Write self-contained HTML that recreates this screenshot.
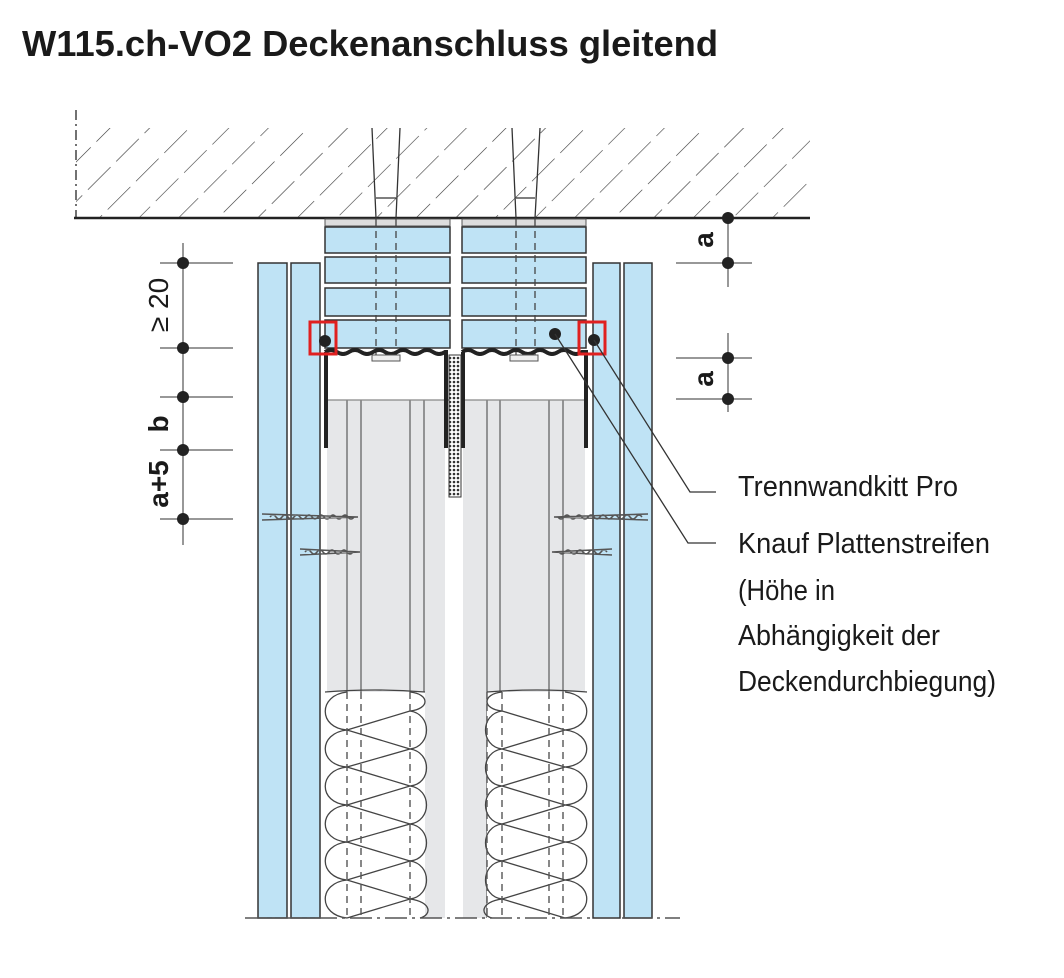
<!DOCTYPE html>
<html><head><meta charset="utf-8"><style>
html,body{margin:0;padding:0;background:#fff;}
svg{display:block;}
text{font-family:"Liberation Sans",sans-serif;fill:#1a1a1a;}
</style></head><body>
<svg width="1064" height="978" viewBox="0 0 1064 978" xmlns="http://www.w3.org/2000/svg">
<defs>
<pattern id="hatch" width="28" height="40" patternUnits="userSpaceOnUse" patternTransform="rotate(45)">
<line x1="0" y1="0" x2="0" y2="40" stroke="#333" stroke-width="1.2" stroke-dasharray="32 8"/>
</pattern>
<pattern id="cross" width="4" height="4" patternUnits="userSpaceOnUse">
<rect width="4" height="4" fill="#fff"/><circle cx="2" cy="2" r="1.3" fill="#333"/>
</pattern>
<clipPath id="slab"><rect x="76" y="128" width="734" height="90"/></clipPath>
</defs>

<text x="22" y="56" font-size="36" font-weight="bold" textLength="696" lengthAdjust="spacingAndGlyphs">W115.ch-VO2 Deckenanschluss gleitend</text>

<!-- slab -->
<g clip-path="url(#slab)"><rect x="0" y="100" width="900" height="140" fill="url(#hatch)"/></g>
<line x1="76" y1="110" x2="76" y2="218" stroke="#444" stroke-width="1.5" stroke-dasharray="10 4 2 4"/>
<line x1="74" y1="218" x2="810" y2="218" stroke="#222" stroke-width="2.5"/>
<g stroke="#333" stroke-width="1.3" fill="none">
<path d="M372 128 L376 218 M400 128 L396 218 M376 198 H396"/>
<path d="M512 128 L516 218 M540 128 L535 218 M516 198 H535"/>
</g>

<!-- outer boards -->
<g fill="#bfe3f5" stroke="#333" stroke-width="1.5">
<rect x="258" y="263" width="29" height="655"/>
<rect x="291" y="263" width="29" height="655"/>
<rect x="593" y="263" width="27" height="655"/>
<rect x="624" y="263" width="28" height="655"/>
</g>

<!-- stud interior -->
<rect x="327" y="400" width="118" height="518" fill="#e6e7e9"/>
<rect x="463" y="400" width="122" height="518" fill="#e6e7e9"/>
<g stroke="#666" stroke-width="1.3">
<line x1="347" y1="400" x2="347" y2="918"/><line x1="361" y1="400" x2="361" y2="918"/>
<line x1="410" y1="400" x2="410" y2="918"/><line x1="424" y1="400" x2="424" y2="918"/>
<line x1="487" y1="400" x2="487" y2="918"/><line x1="500" y1="400" x2="500" y2="918"/>
<line x1="549" y1="400" x2="549" y2="918"/><line x1="563" y1="400" x2="563" y2="918"/>
<line x1="327" y1="400" x2="585" y2="400" stroke="#888"/>
</g>

<!-- insulation -->
<g id="ins">
<rect x="325" y="692" width="100" height="226" fill="#fff"/>
<g fill="none" stroke="#444" stroke-width="1.3">
<path d="M325 692 Q375 688 425 692"/>
<path d="M347 730 L410 711 M347 730 L410 749 M347 767 L410 749 M347 767 L410 786 M347 805 L410 786 M347 805 L410 824 M347 842 L410 824 M347 842 L410 861 M347 880 L410 861 M347 880 L410 899 M347 918 L410 899"/>
<path d="M347 692 C318 695 318 728 347 730 C318 733 318 765 347 767 C318 770 318 803 347 805 C318 808 318 840 347 842 C318 845 318 877 347 880 C318 883 318 915 347 918"/>
<path d="M410 711 C432 714 432 746 410 749 C432 752 432 784 410 786 C432 789 432 821 410 824 C432 827 432 859 410 861 C432 864 432 896 410 899 C432 902 432 915 420 918"/>
<path d="M410 692 C430 694 430 709 410 711"/>
</g>
</g>
<use href="#ins" transform="translate(912 0) scale(-1 1)"/>
<g stroke="#555" stroke-width="1.4" stroke-dasharray="7 5">
<line x1="347" y1="692" x2="347" y2="918"/><line x1="361" y1="692" x2="361" y2="918"/>
<line x1="410" y1="692" x2="410" y2="918"/><line x1="487" y1="692" x2="487" y2="918"/>
<line x1="502" y1="692" x2="502" y2="918"/><line x1="549" y1="692" x2="549" y2="918"/>
<line x1="563" y1="692" x2="563" y2="918"/>
</g>

<!-- board strips at top -->
<g fill="#bfe3f5" stroke="#333" stroke-width="1.5">
<rect x="325" y="227" width="125" height="26"/><rect x="325" y="257" width="125" height="26"/>
<rect x="325" y="288" width="125" height="28"/><rect x="325" y="320" width="125" height="28"/>
<rect x="462" y="227" width="124" height="26"/><rect x="462" y="257" width="124" height="26"/>
<rect x="462" y="288" width="124" height="28"/><rect x="462" y="320" width="124" height="28"/>
</g>
<g stroke="#555" stroke-width="1"><rect x="325" y="219" width="125" height="7" fill="#ddd"/><rect x="462" y="219" width="124" height="7" fill="#ddd"/></g>
<g stroke="#444" stroke-width="1.3" stroke-dasharray="7 5">
<line x1="376" y1="219" x2="376" y2="360"/><line x1="396" y1="219" x2="396" y2="360"/>
<line x1="516" y1="219" x2="516" y2="360"/><line x1="535" y1="219" x2="535" y2="360"/>
</g>

<!-- U profile -->
<path d="M325 352 q6 -4 12 0 t12 0 t12 0 t12 0 t12 0 t12 0 t12 0 t12 0 t12 0 t12 0 L448 352 M462 352 q6 -4 12 0 t12 0 t12 0 t12 0 t12 0 t12 0 t12 0 t12 0 t12 0 t12 0 L588 352" stroke="#222" stroke-width="4" fill="none"/>
<rect x="372" y="355" width="28" height="6" fill="#eee" stroke="#555"/>
<rect x="510" y="355" width="28" height="6" fill="#eee" stroke="#555"/>
<g stroke="#222" stroke-width="4">
<line x1="326" y1="352" x2="326" y2="448"/><line x1="446" y1="352" x2="446" y2="448"/>
<line x1="463" y1="352" x2="463" y2="448"/><line x1="586" y1="352" x2="586" y2="448"/>
</g>
<rect x="449" y="355" width="12" height="142" fill="url(#cross)" stroke="#333"/>

<!-- screws -->
<g stroke="#555" stroke-width="1.5" fill="none">
<path d="M262 514 L358 517 L262 520 M270 517 q3 -4 6 0 t6 0 t6 0 t6 0 t6 0 t6 0 t6 0 t6 0 t6 0 t6 0 t6 0 t6 0 t6 0 t6 0"/>
<path d="M300 549 L360 552 L300 555 M305 552 q3 -4 6 0 t6 0 t6 0 t6 0 t6 0 t6 0 t6 0 t6 0"/>
<path d="M648 514 L554 517 L648 520 M642 517 q-3 -4 -6 0 t-6 0 t-6 0 t-6 0 t-6 0 t-6 0 t-6 0 t-6 0 t-6 0 t-6 0 t-6 0 t-6 0 t-6 0 t-6 0"/>
<path d="M612 549 L552 552 L612 555 M607 552 q-3 -4 -6 0 t-6 0 t-6 0 t-6 0 t-6 0 t-6 0 t-6 0 t-6 0"/>
</g>

<line x1="245" y1="918" x2="680" y2="918" stroke="#555" stroke-width="1.5" stroke-dasharray="22 5 3 5"/>

<circle cx="325" cy="341" r="6" fill="#222"/><circle cx="594" cy="340" r="6" fill="#222"/><circle cx="555" cy="334" r="6" fill="#222"/>
<rect x="310" y="322" width="26" height="32" fill="none" stroke="#e02020" stroke-width="3"/>
<rect x="579" y="322" width="26" height="32" fill="none" stroke="#e02020" stroke-width="3"/>

<g stroke="#333" stroke-width="1.3" fill="none">
<polyline points="594,340 690,492 716,492"/>
<polyline points="555,334 688,543 716,543"/>
</g>

<g stroke="#777" stroke-width="1.5">
<line x1="183" y1="243" x2="183" y2="545"/>
<line x1="160" y1="263" x2="233" y2="263"/><line x1="160" y1="348" x2="233" y2="348"/>
<line x1="160" y1="397" x2="233" y2="397"/><line x1="160" y1="450" x2="233" y2="450"/>
<line x1="160" y1="519" x2="233" y2="519"/>
</g>
<g fill="#222"><circle cx="183" cy="263" r="6"/><circle cx="183" cy="348" r="6"/><circle cx="183" cy="397" r="6"/><circle cx="183" cy="450" r="6"/><circle cx="183" cy="519" r="6"/></g>
<g font-size="28">
<text transform="translate(168 305) rotate(-90)" text-anchor="middle">≥ 20</text>
<text transform="translate(168 424) rotate(-90)" text-anchor="middle" font-weight="bold">b</text>
<text transform="translate(168 484) rotate(-90)" text-anchor="middle" font-weight="bold">a+5</text>
</g>

<g stroke="#777" stroke-width="1.5">
<line x1="728" y1="218" x2="728" y2="287"/><line x1="728" y1="333" x2="728" y2="412"/>
<line x1="676" y1="263" x2="752" y2="263"/><line x1="676" y1="358" x2="752" y2="358"/><line x1="676" y1="399" x2="752" y2="399"/>
</g>
<g fill="#222"><circle cx="728" cy="218" r="6"/><circle cx="728" cy="263" r="6"/><circle cx="728" cy="358" r="6"/><circle cx="728" cy="399" r="6"/></g>
<g font-size="28" font-weight="bold">
<text transform="translate(713 240) rotate(-90)" text-anchor="middle">a</text>
<text transform="translate(713 379) rotate(-90)" text-anchor="middle">a</text>
</g>

<g font-size="29">
<text x="738" y="496" textLength="220" lengthAdjust="spacingAndGlyphs">Trennwandkitt Pro</text>
<text x="738" y="553" textLength="252" lengthAdjust="spacingAndGlyphs">Knauf Plattenstreifen</text>
<text x="738" y="600" textLength="97" lengthAdjust="spacingAndGlyphs">(Höhe in</text>
<text x="738" y="645" textLength="202" lengthAdjust="spacingAndGlyphs">Abhängigkeit der</text>
<text x="738" y="691" textLength="258" lengthAdjust="spacingAndGlyphs">Deckendurchbiegung)</text>
</g>
</svg>
</body></html>
